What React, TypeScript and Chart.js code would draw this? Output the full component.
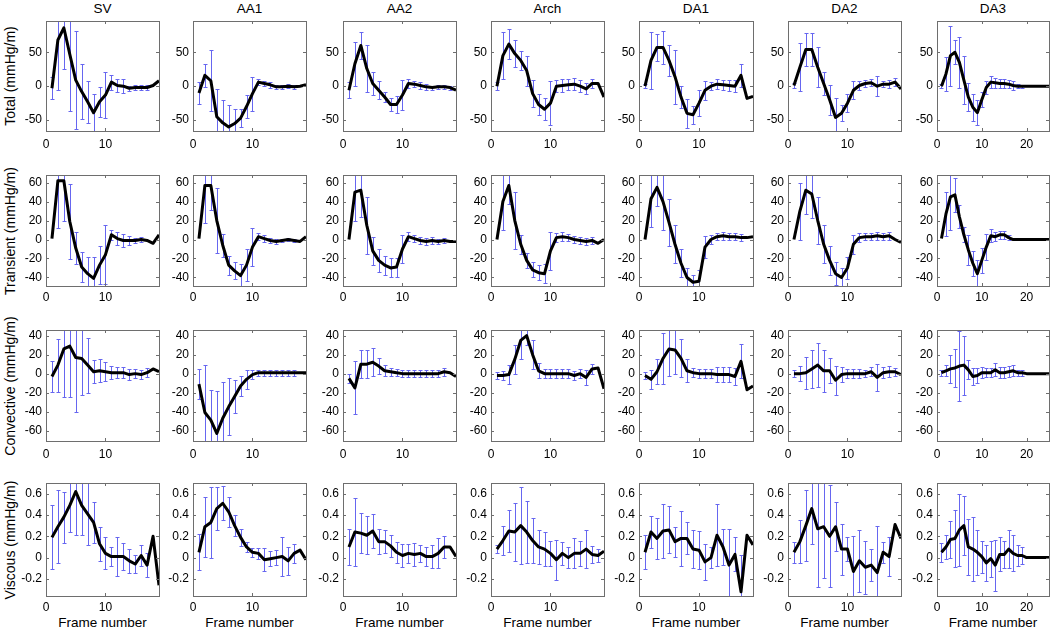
import React, { useEffect, useRef } from "react";
import { Chart, registerables } from "chart.js";

Chart.register(...registerables);

// ---------------- categories / labels ----------------
const columns = ["SV", "AA1", "AA2", "Arch", "DA1", "DA2", "DA3"];
const rowLabels = ["Total (mmHg/m)", "Transient (mmHg/m)", "Convective (mmHg/m)", "Viscous (mmHg/m)"];
const xAxisLabel = "Frame number";
const frames19 = [1, 2, 3, 4, 5, 6, 7, 8, 9, 10, 11, 12, 13, 14, 15, 16, 17, 18, 19];
const frames25 = [1, 2, 3, 4, 5, 6, 7, 8, 9, 10, 11, 12, 13, 14, 15, 16, 17, 18, 19, 20, 21, 22, 23, 24, 25];

// ---------------- tick labels ----------------
const totalTicks = [-50, 0, 50];
const transientTicks = [-40, -20, 0, 20, 40, 60];
const convectiveTicks = [-60, -40, -20, 0, 20, 40];
const viscousTicks = [-0.2, 0, 0.2, 0.4, 0.6];
const frameTicks19 = [0, 10];
const frameTicks25 = [0, 10, 20];

// ---------------- Total ----------------
const totalSV = [-3, 68, 86, 47, 9, -8, -23, -39, -23, -13, 6, 1, 0, -3, -2, -2, -2, 1, 8];
const totalSVErr = [16, 73, 60, 83, 72, 41, 31, 27, 22, 34, 11, 10, 10, 4, 4, 4, 4, 0, 0];
const totalAA1 = [-10, 16, 8, -45, -54, -60, -55, -47, -30, -11, 6, 4, 2, -1, -1, 0, -1, 0, 2];
const totalAA1Err = [16, 17, 45, 41, 34, 33, 22, 13, 17, 25, 4, 4, 4, 3, 3, 3, 3, 0, 0];
const totalAA2 = [-6, 33, 60, 26, 4, -6, -16, -27, -27, -13, 4, 3, 1, -1, -2, -1, -1, -2, -6];
const totalAA2Err = [12, 32, 20, 35, 17, 13, 8, 10, 13, 22, 7, 4, 5, 4, 3, 3, 3, 3, 0];
const totalArch = [0, 45, 62, 48, 38, 23, -11, -27, -34, -25, 0, 1, 2, 3, 0, -4, 4, 4, -16];
const totalArchErr = [6, 35, 22, 20, 14, 22, 20, 15, 16, 32, 9, 9, 8, 9, 9, 8, 7, 0, 0];
const totalDA1 = [0, 38, 57, 57, 38, 14, -16, -40, -42, -25, -6, 0, 3, 2, 1, 0, 16, -18, -15];
const totalDA1Err = [3, 42, 20, 25, 23, 40, 16, 21, 13, 19, 14, 6, 7, 7, 8, 9, 17, 0, 0];
const totalDA2 = [1, 28, 54, 54, 28, 4, -20, -46, -40, -25, -6, 1, 4, 5, 0, 3, 3, 6, -4];
const totalDA2Err = [4, 35, 24, 25, 29, 17, 22, 28, 12, 13, 13, 6, 5, 5, 15, 4, 6, 6, 0];
const totalDA3 = [0, 18, 45, 50, 35, 9, -16, -31, -39, -20, -2, 6, 5, 4, 4, 3, 1, 0, 0, 0, 0, 0, 0, 0, 0];
const totalDA3Err = [3, 25, 44, 18, 37, 35, 20, 20, 18, 11, 9, 9, 7, 7, 7, 6, 6, 3, 2, 0, 0, 0, 0, 0, 0];

// ---------------- Transient ----------------
const transSV = [1, 62, 62, 19, -9, -29, -36, -41, -27, -16, 5, 1, -1, -1, -1, 0, -1, -4, 5];
const transSVErr = [0, 50, 43, 40, 17, 16, 18, 23, 20, 31, 5, 7, 7, 5, 3, 3, 0, 0, 0];
const transAA1 = [1, 57, 57, 20, -6, -27, -33, -38, -27, -8, 3, 1, -1, -2, -1, 0, -1, -2, 3];
const transAA1Err = [0, 40, 26, 34, 12, 10, 9, 12, 17, 20, 4, 4, 3, 3, 2, 2, 2, 0, 0];
const transAA2 = [0, 50, 52, 15, -12, -22, -27, -30, -29, -10, 3, 1, -1, -2, -1, -2, -1, -2, -2];
const transAA2Err = [0, 30, 28, 30, 15, 12, 10, 10, 10, 15, 5, 4, 4, 4, 4, 3, 3, 0, 0];
const transArch = [0, 40, 57, 20, -5, -22, -32, -35, -36, -12, 2, 3, 2, 0, -1, -2, -1, -4, 0];
const transArchErr = [0, 30, 20, 30, 10, 8, 8, 8, 10, 20, 5, 5, 4, 4, 4, 4, 4, 0, 0];
const transDA1 = [0, 43, 55, 40, 18, -5, -25, -40, -45, -44, -8, 0, 3, 4, 3, 3, 2, 2, 3];
const transDA1Err = [0, 30, 20, 30, 25, 20, 15, 10, 8, 12, 12, 5, 4, 4, 4, 4, 4, 0, 0];
const transDA2 = [0, 30, 52, 48, 20, -5, -22, -36, -40, -30, -5, 2, 3, 3, 4, 3, 4, 0, -3];
const transDA2Err = [0, 30, 25, 25, 25, 20, 15, 12, 10, 12, 10, 5, 4, 4, 4, 4, 4, 0, 0];
const transDA3 = [1, 27, 45, 47, 24, 5, -11, -25, -36, -22, -8, 4, 3, 5, 5, 2, 0, 0, 0, 0, 0, 0, 0, 0, 0];
const transDA3Err = [0, 23, 35, 18, 12, 8, 16, 13, 14, 13, 14, 7, 5, 4, 4, 3, 0, 0, 0, 0, 0, 0, 0, 0, 0];

// ---------------- Convective ----------------
const convSV = [-3, 9, 26, 29, 17, 16, 9, 2, 3, 2, 1, 1, 1, -1, 0, -1, 1, 5, 2];
const convSVErr = [16, 28, 51, 54, 57, 38, 29, 12, 12, 10, 7, 6, 6, 6, 5, 5, 5, 0, 0];
const convAA1 = [-11, -41, -49, -63, -47, -35, -24, -13, -6, -1, 1, 1, 1, 1, 1, 1, 1, 1, 1];
const convAA1Err = [16, 50, 32, 45, 38, 30, 17, 11, 10, 5, 3, 3, 3, 3, 3, 3, 3, 0, 0];
const convAA2 = [-5, -15, 10, 10, 12, 8, 3, 2, 1, 0, 0, 0, 0, 0, 0, 0, 2, 1, -3];
const convAA2Err = [5, 28, 15, 15, 15, 8, 6, 4, 4, 4, 4, 4, 4, 4, 4, 4, 4, 0, 0];
const convArch = [-2, -2, -1, 15, 35, 40, 20, 3, 0, 0, 0, 0, 0, -2, 0, -4, 5, 6, -16];
const convArchErr = [4, 5, 10, 15, 20, 10, 15, 8, 5, 5, 5, 5, 5, 5, 5, 8, 5, 0, 0];
const convDA1 = [-2, -6, 2, 16, 26, 25, 16, 3, 1, 0, 0, 0, -1, -1, -1, -3, 13, -17, -13];
const convDA1Err = [4, 10, 13, 27, 29, 25, 20, 12, 5, 5, 5, 5, 8, 8, 8, 9, 18, 0, 0];
const convDA2 = [0, 0, 1, 5, 9, 3, 3, -7, -1, 0, 0, 0, 0, 2, -4, 1, 2, 2, -1];
const convDA2Err = [4, 8, 17, 20, 23, 22, 13, 15, 8, 5, 5, 5, 4, 5, 14, 6, 6, 4, 0];
const convDA3 = [1, 3, 5, 6, 8, 9, 4, -3, -2, 1, 1, 1, 4, 1, 1, 2, 3, 1, 1, 0, 0, 0, 0, 0, 0];
const convDA3Err = [3, 6, 15, 20, 37, 31, 10, 9, 8, 6, 5, 5, 7, 6, 6, 6, 6, 3, 3, 0, 0, 0, 0, 0, 0];

// ---------------- Viscous ----------------
const viscSV = [0.19, 0.29, 0.38, 0.49, 0.62, 0.49, 0.41, 0.33, 0.13, 0.04, 0.01, 0.01, 0.01, -0.03, -0.06, 0.02, -0.07, 0.2, -0.26];
const viscSVErr = [0.3, 0.34, 0.24, 0.25, 0.41, 0.28, 0.29, 0.19, 0.16, 0.15, 0.09, 0.18, 0.13, 0.11, 0.08, 0.1, 0.11, 0, 0];
const viscAA1 = [0.05, 0.29, 0.33, 0.46, 0.51, 0.43, 0.3, 0.19, 0.1, 0.05, 0.04, -0.02, -0.01, 0, 0.01, -0.03, 0.04, 0.07, -0.02];
const viscAA1Err = [0.17, 0.28, 0.33, 0.2, 0.16, 0.14, 0.1, 0.08, 0.05, 0.04, 0.05, 0.11, 0.07, 0.07, 0.18, 0.13, 0.09, 0, 0];
const viscAA2 = [0.1, 0.24, 0.23, 0.21, 0.25, 0.15, 0.15, 0.11, 0.05, 0.02, 0.04, 0.03, 0.04, 0.01, 0.01, 0.04, 0.1, 0.1, 0.01];
const viscAA2Err = [0.17, 0.32, 0.19, 0.18, 0.16, 0.12, 0.11, 0.1, 0.1, 0.11, 0.09, 0.11, 0.08, 0.09, 0.11, 0.14, 0.1, 0, 0];
const viscArch = [0.08, 0.16, 0.25, 0.24, 0.3, 0.24, 0.16, 0.1, 0.08, 0.04, -0.02, 0.04, 0, 0.04, 0.04, 0.08, 0.03, 0.02, 0.06];
const viscArchErr = [0.04, 0.14, 0.2, 0.27, 0.36, 0.29, 0.21, 0.16, 0.16, 0.12, 0.19, 0.11, 0.1, 0.14, 0.12, 0.18, 0.08, 0.06, 0];
const viscDA1 = [0.05, 0.24, 0.18, 0.25, 0.26, 0.15, 0.18, 0.18, 0.08, 0.07, -0.04, 0, 0.21, 0.1, -0.07, 0.03, -0.32, 0.21, 0.12];
const viscDA1Err = [0.16, 0.15, 0.19, 0.25, 0.22, 0.14, 0.26, 0.15, 0.18, 0.18, 0.17, 0.1, 0.29, 0.17, 0.34, 0.16, 0.34, 0, 0];
const viscDA2 = [0.05, 0.15, 0.3, 0.46, 0.27, 0.29, 0.2, 0.29, 0.08, 0.08, -0.13, -0.03, -0.09, -0.07, -0.14, 0.05, 0.01, 0.31, 0.18];
const viscDA2Err = [0.1, 0.2, 0.33, 0.33, 0.55, 0.48, 0.48, 0.23, 0.24, 0.11, 0.33, 0.29, 0.25, 0.15, 0.44, 0.1, 0.18, 0, 0];
const viscDA3 = [0.05, 0.1, 0.17, 0.18, 0.26, 0.3, 0.1, 0.08, 0.05, 0.01, -0.05, -0.01, -0.07, 0.03, 0.03, 0.08, 0.04, 0.02, 0.02, 0, 0, 0, 0, 0, 0];
const viscDA3Err = [0.09, 0.11, 0.17, 0.27, 0.34, 0.28, 0.26, 0.3, 0.21, 0.15, 0.17, 0.17, 0.24, 0.16, 0.13, 0.18, 0.17, 0.1, 0.08, 0, 0, 0, 0, 0, 0];

// ---------------- axis ranges ----------------
const rowYMin = [-66, -49, -71, -0.36];
const rowYMax = [96, 68, 46, 0.7];
const rowTicks = [totalTicks, transientTicks, convectiveTicks, viscousTicks];
const colXMax = [19, 19, 19, 19, 19, 19, 25];
const colXTicks = [frameTicks19, frameTicks19, frameTicks19, frameTicks19, frameTicks19, frameTicks19, frameTicks25];

// table assembled from the arrays above
const panelGrid: number[][][][] = [
  [[totalSV, totalSVErr], [totalAA1, totalAA1Err], [totalAA2, totalAA2Err], [totalArch, totalArchErr], [totalDA1, totalDA1Err], [totalDA2, totalDA2Err], [totalDA3, totalDA3Err]],
  [[transSV, transSVErr], [transAA1, transAA1Err], [transAA2, transAA2Err], [transArch, transArchErr], [transDA1, transDA1Err], [transDA2, transDA2Err], [transDA3, transDA3Err]],
  [[convSV, convSVErr], [convAA1, convAA1Err], [convAA2, convAA2Err], [convArch, convArchErr], [convDA1, convDA1Err], [convDA2, convDA2Err], [convDA3, convDA3Err]],
  [[viscSV, viscSVErr], [viscAA1, viscAA1Err], [viscAA2, viscAA2Err], [viscArch, viscArchErr], [viscDA1, viscDA1Err], [viscDA2, viscDA2Err], [viscDA3, viscDA3Err]],
];
const colFrames = [frames19, frames19, frames19, frames19, frames19, frames19, frames25];

// ---------------- layout & style ----------------
const FONT = "'Liberation Sans', Arial, Helvetica, sans-serif";
const ERR_COLOR = "#6666f0";
const BOX_COLOR = "#6e6e6e";
const colLeft = [46, 193, 343, 491, 639, 788, 937];
const colWidth = [113, 113, 113, 113, 114, 113, 112];
const rowTop = [21, 175, 330, 483];
const rowHeight = [110, 111, 111, 113];
const rowTickPad = [6, 4, 6, 4];
const PAD_L = 40, PAD_R = 6, PAD_T = 6, PAD_B = 24;

function fmt(v: any) {
  const n = Math.round(Number(v) * 1000) / 1000;
  return String(n === 0 ? 0 : n);
}

function useTicks(values: number[]) {
  return (s: any) => {
    s.ticks = values.map((v) => ({ value: v }));
  };
}

type PanelProps = { r: number; c: number };

function Panel({ r, c }: PanelProps) {
  const ref = useRef<HTMLCanvasElement>(null);
  const W = colWidth[c];
  const H = rowHeight[r];
  const cw = PAD_L + W + PAD_R;
  const ch = PAD_T + H + PAD_B;

  useEffect(() => {
    const canvas = ref.current;
    if (!canvas) return;
    const [mean, err] = panelGrid[r][c];
    const frames = colFrames[c];

    const decor = {
      id: "panelDecor",
      beforeDatasetsDraw(chart: any) {
        const { ctx, chartArea: a, scales } = chart;
        const xs = scales.x, ys = scales.y;
        ctx.save();
        ctx.beginPath();
        ctx.rect(a.left, a.top, a.right - a.left, a.bottom - a.top);
        ctx.clip();
        ctx.strokeStyle = ERR_COLOR;
        ctx.lineWidth = 1;
        for (let i = 0; i < mean.length; i++) {
          const e = err[i];
          if (!e) continue;
          const x = Math.round(xs.getPixelForValue(frames[i])) + 0.5;
          const y1 = Math.round(ys.getPixelForValue(mean[i] + e)) + 0.5;
          const y2 = Math.round(ys.getPixelForValue(mean[i] - e)) + 0.5;
          ctx.beginPath();
          ctx.moveTo(x, y1);
          ctx.lineTo(x, y2);
          ctx.moveTo(x - 2, y1);
          ctx.lineTo(x + 2, y1);
          ctx.moveTo(x - 2, y2);
          ctx.lineTo(x + 2, y2);
          ctx.stroke();
        }
        ctx.restore();
      },
      afterDatasetsDraw(chart: any) {
        const { ctx, chartArea: a, scales } = chart;
        const xs = scales.x, ys = scales.y;
        ctx.save();
        ctx.strokeStyle = BOX_COLOR;
        ctx.lineWidth = 1;
        ctx.strokeRect(a.left + 0.5, a.top + 0.5, a.right - a.left, a.bottom - a.top);
        ctx.beginPath();
        xs.ticks.forEach((t: any) => {
          const px = Math.round(xs.getPixelForValue(t.value)) + 0.5;
          ctx.moveTo(px, a.bottom);
          ctx.lineTo(px, a.bottom - 3);
          ctx.moveTo(px, a.top);
          ctx.lineTo(px, a.top + 3);
        });
        ys.ticks.forEach((t: any) => {
          const py = Math.round(ys.getPixelForValue(t.value)) + 0.5;
          ctx.moveTo(a.left, py);
          ctx.lineTo(a.left + 3, py);
          ctx.moveTo(a.right, py);
          ctx.lineTo(a.right - 3, py);
        });
        ctx.stroke();
        ctx.restore();
      },
    };

    const tickFont = { family: FONT, size: 12 };
    const chart = new Chart(canvas, {
      type: "line",
      data: {
        datasets: [
          {
            data: frames.map((f, i) => ({ x: f, y: mean[i] })),
            borderColor: "#000000",
            borderWidth: 3,
            pointRadius: 0,
            tension: 0,
            fill: false,
            borderJoinStyle: "round",
          },
        ],
      },
      options: {
        responsive: false,
        animation: false,
        devicePixelRatio: 1,
        events: [],
        layout: { padding: { left: 0, top: PAD_T, right: PAD_R, bottom: 0 } },
        plugins: { legend: { display: false }, tooltip: { enabled: false }, title: { display: false } },
        scales: {
          x: {
            type: "linear",
            position: "bottom",
            min: 0,
            max: colXMax[c],
            grid: { display: false, drawTicks: false },
            border: { display: false },
            ticks: {
              autoSkip: false,
              maxRotation: 0,
              padding: rowTickPad[r],
              color: "#000",
              font: tickFont,
              callback: fmt,
            },
            afterBuildTicks: useTicks(colXTicks[c]),
            afterFit: (s: any) => {
              s.height = PAD_B;
              s.paddingLeft = 0;
              s.paddingRight = 0;
            },
          },
          y: {
            type: "linear",
            position: "left",
            min: rowYMin[r],
            max: rowYMax[r],
            grid: { display: false, drawTicks: false },
            border: { display: false },
            ticks: {
              autoSkip: false,
              padding: 4,
              color: "#000",
              font: tickFont,
              callback: fmt,
            },
            afterBuildTicks: useTicks(rowTicks[r]),
            afterFit: (s: any) => {
              s.width = PAD_L;
              s.paddingTop = 0;
              s.paddingBottom = 0;
            },
          },
        },
      } as any,
      plugins: [decor],
    });
    return () => chart.destroy();
  }, [r, c]);

  return (
    <canvas
      ref={ref}
      width={cw}
      height={ch}
      style={{ position: "absolute", left: colLeft[c] - PAD_L, top: rowTop[r] - PAD_T, width: cw, height: ch }}
    />
  );
}

export default function App() {
  const panels: React.ReactNode[] = [];
  for (let r = 0; r < 4; r++) {
    for (let c = 0; c < 7; c++) {
      panels.push(<Panel key={`${r}-${c}`} r={r} c={c} />);
    }
  }
  return (
    <div
      style={{
        position: "absolute",
        left: 0,
        top: 0,
        width: 1050,
        height: 629,
        overflow: "hidden",
        background: "#fff",
        fontFamily: FONT,
        color: "#000",
      }}
    >
      {columns.map((name, c) => (
        <div
          key={`t-${name}`}
          style={{ position: "absolute", left: colLeft[c], width: colWidth[c], top: 1, textAlign: "center", fontSize: 13.5, lineHeight: "16px" }}
        >
          {name}
        </div>
      ))}
      {rowLabels.map((lab, r) => (
        <div
          key={`y-${lab}`}
          style={{
            position: "absolute",
            left: 10,
            top: rowTop[r] + rowHeight[r] / 2,
            transform: "translate(-50%, -50%) rotate(-90deg)",
            whiteSpace: "nowrap",
            fontSize: 14,
            lineHeight: "16px",
          }}
        >
          {lab}
        </div>
      ))}
      {columns.map((name, c) => (
        <div
          key={`x-${name}`}
          style={{ position: "absolute", left: colLeft[c], width: colWidth[c], top: 615, textAlign: "center", fontSize: 13.5, lineHeight: "16px", whiteSpace: "nowrap" }}
        >
          {xAxisLabel}
        </div>
      ))}
      {panels}
    </div>
  );
}
